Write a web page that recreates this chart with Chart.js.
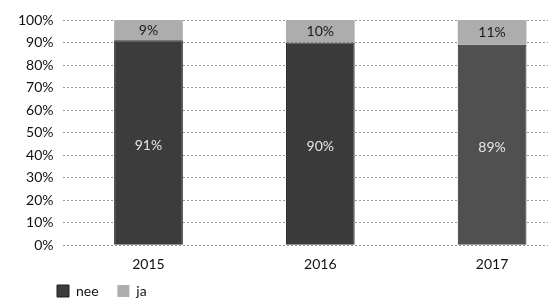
<!DOCTYPE html>
<html>
<head>
<meta charset="utf-8">
<script src="https://cdn.jsdelivr.net/npm/chart.js@4"></script>
<style>
  html, body { margin: 0; padding: 0; background: #fff; overflow: hidden; }
  #wrap { width: 548px; height: 298px; overflow: hidden; }
</style>
</head>
<body>
<div id="wrap"><canvas id="chart" width="578" height="298"></canvas></div>
<script>
// years on the x axis
const years = ['2015', '2016', '2017'];
// share answering "nee" / "ja" (percent)
const nee = [91, 90, 89];
const ja = [9, 10, 11];
const seriesNames = ['nee', 'ja'];

// labels written inside each bar segment
const barLabels = {
  id: 'barLabels',
  afterDatasetsDraw(chart) {
    const ctx = chart.ctx;
    ctx.save();
    ctx.font = '14px Lato';
    ctx.textAlign = 'center';
    ctx.textBaseline = 'middle';
    chart.data.datasets.forEach((ds, di) => {
      const meta = chart.getDatasetMeta(di);
      meta.data.forEach((bar, i) => {
        const mid = (bar.y + bar.base) / 2 + (di === 0 ? 3 : 0);
        ctx.fillStyle = di === 0 ? '#e6e6e6' : '#1a1a1a';
        ctx.fillText(ds.data[i] + '%', bar.x, mid);
      });
    });
    ctx.restore();
  }
};

// legend sits under the y labels, not at the canvas edge
const legendShift = {
  id: 'legendShift',
  afterLayout(chart) {
    chart.legend.left += 40;
    chart.legend.right += 40;
  }
};

new Chart(document.getElementById('chart'), {
  type: 'bar',
  data: {
    labels: years,
    datasets: [
      { label: seriesNames[0], data: nee, backgroundColor: ['#3c3c3c', '#3a3a3a', '#505050'], borderColor: '#1e1e1e', borderWidth: 1, categoryPercentage: 0.8, barPercentage: 0.5 },
      { label: seriesNames[1], data: ja, backgroundColor: '#adadad', borderColor: '#d8d8d8', borderWidth: { bottom: 1 }, categoryPercentage: 0.8, barPercentage: 0.5 }
    ]
  },
  options: {
    responsive: false,
    animation: false,
    layout: { padding: { left: 9, right: 0, top: 20, bottom: -10 } },
    plugins: {
      legend: {
        position: 'bottom',
        align: 'start',
        labels: {
          boxWidth: 12, boxHeight: 12, padding: 8,
          color: '#111', font: { family: 'Lato', size: 14 },
          generateLabels: chart => Chart.defaults.plugins.legend.labels.generateLabels(chart)
            .map(l => ({ ...l, text: l.text === seriesNames[0] ? l.text + '   ' : l.text }))
        }
      },
      tooltip: { enabled: false }
    },
    scales: {
      x: {
        stacked: true,
        grid: { display: false },
        border: { display: false },
        ticks: { color: '#111', font: { family: 'Lato', size: 14 }, padding: 3 }
      },
      y: {
        stacked: true,
        min: 0, max: 100,
        border: { display: false, dash: [2, 2] },
        grid: { color: '#9a9a9a', lineWidth: 1, drawTicks: false },
        ticks: { stepSize: 10, color: '#111', padding: 9, font: { family: 'Lato', size: 14 }, callback: v => v + '%' }
      }
    }
  },
  plugins: [barLabels, legendShift]
});
</script>
</body>
</html>
